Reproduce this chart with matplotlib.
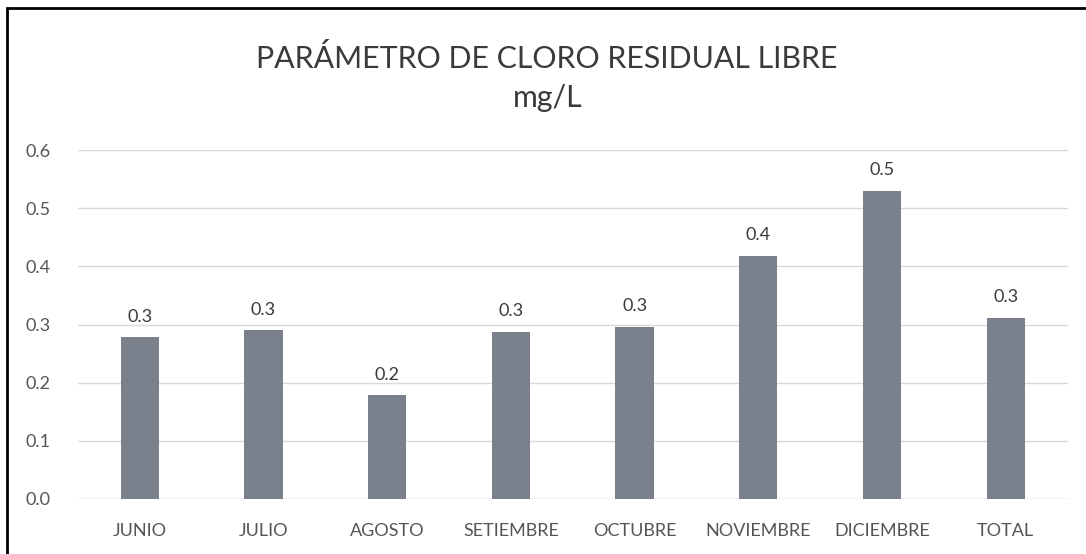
import matplotlib

matplotlib.use("Agg")
import matplotlib.pyplot as plt
from matplotlib.patches import Rectangle

months = ["JUNIO", "JULIO", "AGOSTO", "SETIEMBRE", "OCTUBRE", "NOVIEMBRE", "DICIEMBRE", "TOTAL"]
cloro = [0.278, 0.290, 0.178, 0.288, 0.296, 0.418, 0.530, 0.312]
labels = ["0.3", "0.3", "0.2", "0.3", "0.3", "0.4", "0.5", "0.3"]
yticks = [0.0, 0.1, 0.2, 0.3, 0.4, 0.5, 0.6]

plt.rcParams["font.family"] = ["Lato", "DejaVu Sans"]

fig = plt.figure(figsize=(10.86, 5.54), dpi=100)
ax = fig.add_axes([0.0718, 0.0993, 0.9112, 0.6297])

x = list(range(len(months)))
ax.bar(x, cloro, width=0.31, color="#7b808d", zorder=2)
for xi, v, lab in zip(x, cloro, labels):
    ax.annotate(lab, (xi, v), xytext=(0, 9), textcoords="offset points",
                ha="center", va="bottom", fontsize=13, color="#3a3a3a")

ax.set_xlim(-0.5, len(months) - 0.5)
ax.set_ylim(0, 0.6)
ax.set_yticks(yticks)
ax.set_yticklabels([f"{t:.1f}" for t in yticks])
ax.set_xticks(x)
ax.set_xticklabels(months)
ax.tick_params(axis="both", length=0, labelsize=13, colors="#555555")
ax.tick_params(axis="x", pad=17)
ax.tick_params(axis="y", pad=20)
ax.grid(axis="y", color="#d9d9d9", linewidth=1, zorder=0)
for s in ax.spines.values():
    s.set_visible(False)
ax.axhline(0, color="#d9d9d9", linewidth=1, zorder=1)

fig.text(0.503, 0.895, "PARÁMETRO DE CLORO RESIDUAL LIBRE", ha="center", va="center",
         fontsize=21.8, color="#3a3a3a")
fig.text(0.504, 0.823, "mg/L", ha="center", va="center", fontsize=21.8, color="#3a3a3a")

# chart frame (scanned border: left and top)
fig.add_artist(Rectangle((7 / 1086, -0.01), 1.2, 1 - 8 / 554 + 0.01, transform=fig.transFigure,
                         fill=False, edgecolor="black", linewidth=2))

fig.savefig("out.png", dpi=100, facecolor="white")
